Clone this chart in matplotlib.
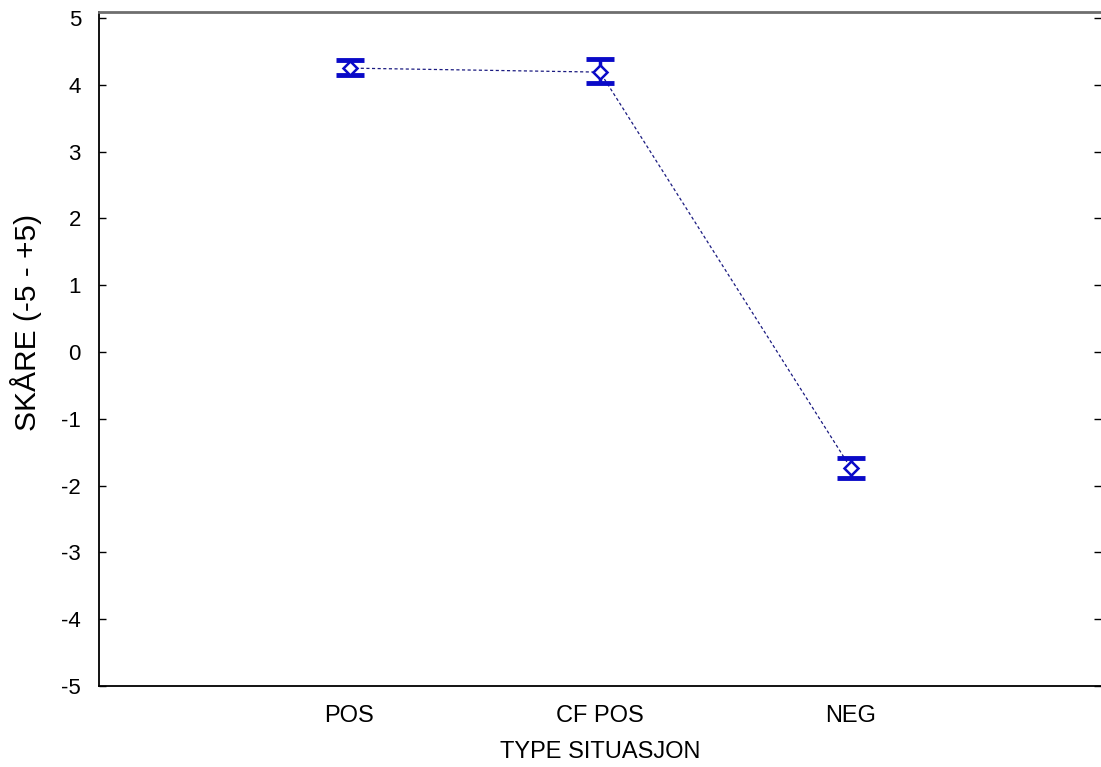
import matplotlib
matplotlib.use("Agg")
import matplotlib.pyplot as plt

# data
categories = ["POS", "CF POS", "NEG"]
means = [4.25, 4.19, -1.73]
lower = [4.14, 4.03, -1.88]
upper = [4.37, 4.39, -1.58]
yticks = [-5, -4, -3, -2, -1, 0, 1, 2, 3, 4, 5]

plt.rcParams['font.family'] = ['Liberation Sans', 'DejaVu Sans']

fig = plt.figure(figsize=(11.01, 7.67), dpi=100)
ax = fig.add_axes([99 / 1101, 1 - 686 / 767, 1 - 99 / 1101, (686 - 12) / 767])

x = [1, 2, 3]
yerr = [[m - lo for m, lo in zip(means, lower)],
        [hi - m for m, hi in zip(means, upper)]]

# dotted connecting line
ax.plot(x, means, linestyle=(0, (2.5, 2)), color='#1a1a80', linewidth=0.9, zorder=2)
# error bars
ax.errorbar(x, means, yerr=yerr, fmt='none', ecolor='#0a0ac8', elinewidth=2.5,
            capsize=10, capthick=3.5, zorder=3)
# diamond markers
ax.plot(x, means, linestyle='none', marker='D', markersize=7, markerfacecolor='white',
        markeredgecolor='#0a0ac8', markeredgewidth=1.8, zorder=4)

ax.set_xlim(0, 4)
ax.set_ylim(-5, 5.09)
ax.set_xticks(x)
ax.set_xticklabels(categories, fontsize=17)
ax.set_yticks(yticks)
ax.set_yticklabels([str(v) for v in yticks], fontsize=16)

ax.tick_params(axis='x', length=0, pad=14)
ax.tick_params(axis='y', direction='in', length=5, width=1, pad=13, right=True)

ax.spines['right'].set_visible(False)
ax.spines['top'].set_color('#6e6e6e')
ax.spines['top'].set_linewidth(2)
ax.spines['left'].set_linewidth(1.3)
ax.spines['bottom'].set_linewidth(1.3)

ax.set_xlabel("TYPE SITUASJON", fontsize=17, labelpad=10)
ax.set_ylabel("SKÅRE (-5 - +5)", fontsize=21.5)
ax.yaxis.set_label_coords(-57 / 1002, (686 - 322) / 674)

fig.savefig("out.png", dpi=100, facecolor='white')
